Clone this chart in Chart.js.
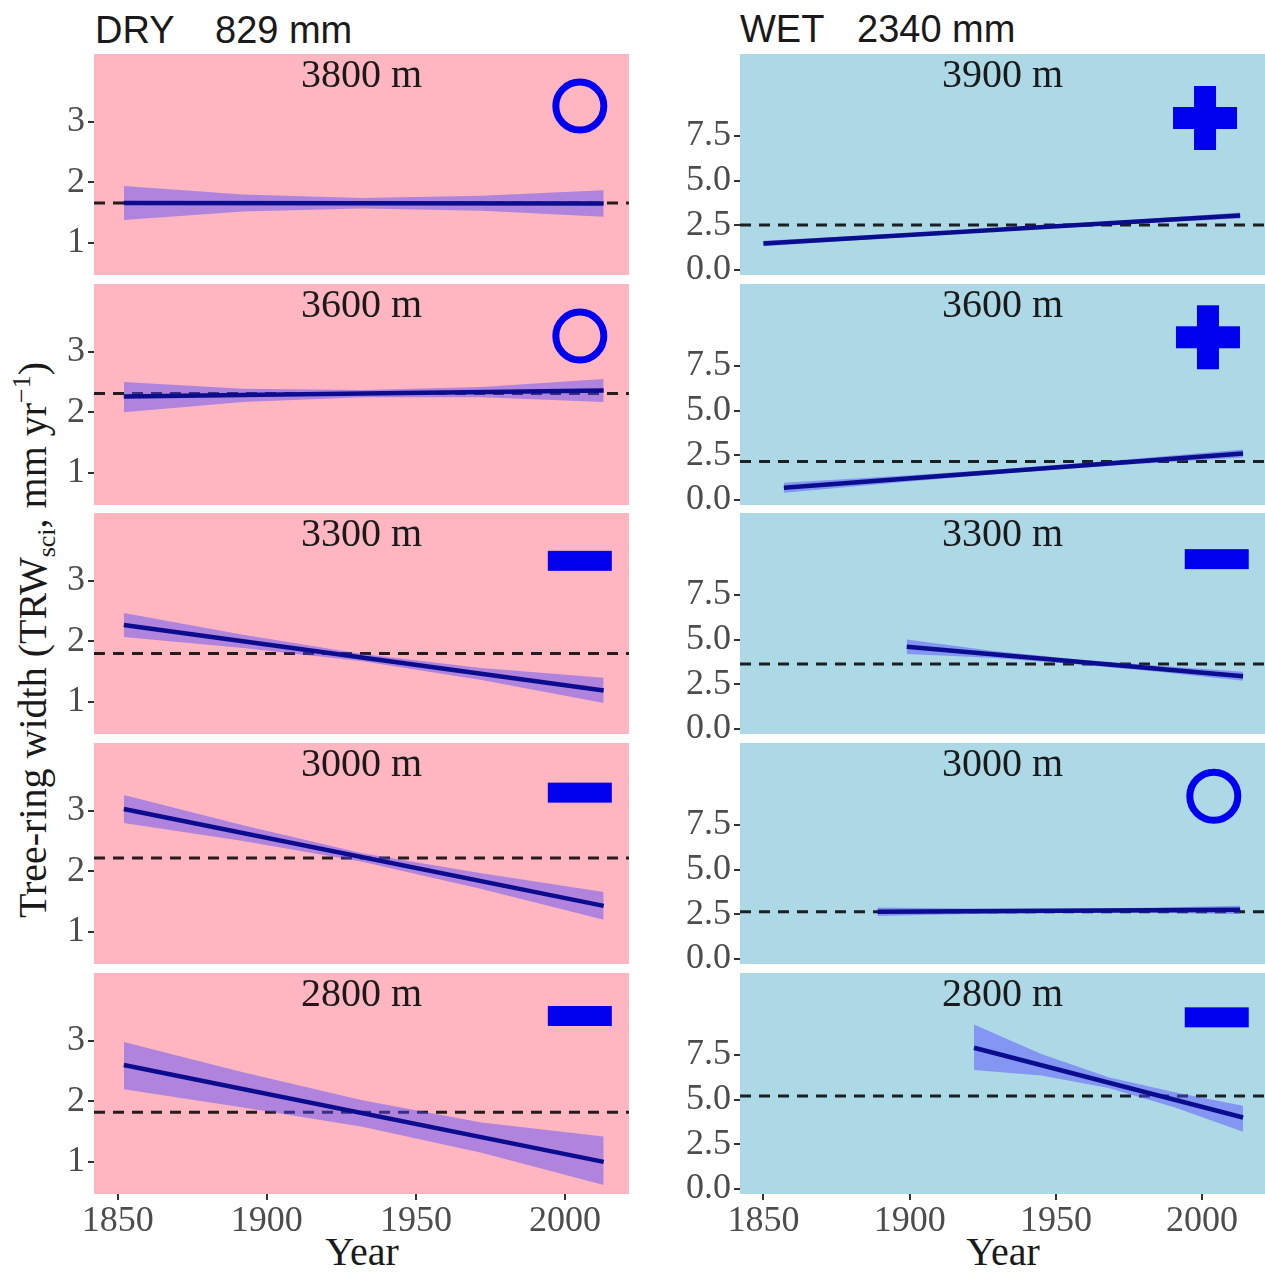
<!DOCTYPE html>
<html>
<head>
<meta charset="utf-8">
<script src="https://cdn.jsdelivr.net/npm/chart.js@4.4.0/dist/chart.umd.min.js"></script>
<style>
  body { margin:0; background:#fff; width:1265px; height:1273px; position:relative; overflow:hidden; }
  canvas { position:absolute; }
  .hdr { position:absolute; font-family:"Liberation Sans", Arial, sans-serif; font-size:38px; line-height:38px; color:#1a1a1a; white-space:pre; }
  .lab { position:absolute; font-family:"Liberation Serif", "Times New Roman", serif; font-size:40px; line-height:40px; color:#1a1a1a; white-space:nowrap; }
</style>
</head>
<body>
<div class="hdr" style="left:95px;top:11px">DRY</div>
<div class="hdr" style="left:215px;top:11px">829 mm</div>
<div class="hdr" style="left:740px;top:10px">WET</div>
<div class="hdr" style="left:857px;top:10px">2340 mm</div>
<div class="lab" style="left:35px;top:640px;transform:translate(-50%,-50%) rotate(-90deg)">Tree-ring width (TRW<span style="font-size:26px;position:relative;top:9px">sci</span>, mm yr<span style="font-size:26px;position:relative;top:-16px">−1</span>)</div>
<div class="lab" style="left:362px;top:1232px;transform:translateX(-50%)">Year</div>
<div class="lab" style="left:1003px;top:1232px;transform:translateX(-50%)">Year</div>

<script>
// tick labels
let yearTicks = [1850, 1900, 1950, 2000];
let dryTicks = [1, 2, 3];
let wetTicks = [0, 2.5, 5, 7.5];

// panel titles + trend sign
let dryElev = ['3800 m', '3600 m', '3300 m', '3000 m', '2800 m'];
let wetElev = ['3900 m', '3600 m', '3300 m', '3000 m', '2800 m'];
let drySign = ['o', 'o', '-', '-', '-'];
let wetSign = ['+', '+', '-', 'o', '-'];

// mean TRW (dashed line)
let dryMean = [1.66, 2.31, 1.80, 2.22, 1.82];
let wetMean = [2.52, 2.15, 3.64, 2.64, 5.20];

// linear trend: start/end year and value
let dryFitYears = [[1852, 2013], [1852, 2013], [1852, 2013], [1852, 2013], [1852, 2013]];
let dryFit = [[1.66, 1.65], [2.26, 2.36], [2.27, 1.19], [3.03, 1.43], [2.60, 1.00]];
let wetFitYears = [[1850, 2013], [1857, 2014], [1899, 2014], [1889, 2013], [1922, 2014]];
let wetFit = [[1.48, 3.05], [0.68, 2.60], [4.60, 2.95], [2.64, 2.75], [7.90, 4.00]];

let dryBandYears = [
  [1852, 1892, 1932, 1972, 2013], [1852, 1892, 1932, 1972, 2013], [1852, 1892, 1932, 1972, 2013],
  [1852, 1892, 1932, 1972, 2013], [1852, 1892, 1932, 1972, 2013]];
let dryLow = [
  [1.38, 1.52, 1.57, 1.53, 1.43], [2.00, 2.17, 2.25, 2.25, 2.17], [2.07, 1.89, 1.67, 1.36, 0.98],
  [2.80, 2.50, 2.16, 1.71, 1.20], [2.20, 1.90, 1.58, 1.15, 0.62]];
let dryHigh = [
  [1.94, 1.80, 1.74, 1.78, 1.87], [2.50, 2.39, 2.37, 2.42, 2.55], [2.47, 2.11, 1.79, 1.56, 1.40],
  [3.26, 2.76, 2.30, 1.97, 1.66], [2.98, 2.48, 2.02, 1.65, 1.42]];
let wetBandYears = [
  [1850, 1891, 1932, 1972, 2013], [1857, 1896, 1935, 1975, 2014], [1899, 1928, 1956, 1985, 2014],
  [1889, 1920, 1951, 1982, 2013], [1922, 1945, 1968, 1991, 2014]];
let wetLow = [
  [1.33, 1.76, 2.19, 2.56, 2.88], [0.40, 0.98, 1.52, 1.98, 2.38], [4.20, 3.98, 3.64, 3.20, 2.70],
  [2.40, 2.52, 2.58, 2.58, 2.52], [6.65, 6.35, 5.65, 4.55, 3.20]];
let wetHigh = [
  [1.63, 1.98, 2.35, 2.76, 3.22], [0.96, 1.34, 1.76, 2.28, 2.82], [5.00, 4.38, 3.92, 3.54, 3.20],
  [2.88, 2.82, 2.82, 2.86, 2.98], [9.20, 7.55, 6.25, 5.40, 4.65]];

// where the sign symbol sits (data units)
const drySymX = [2005, 2005, 2005, 2005, 2005];
const drySymY = [3.26, 3.26, 3.33, 3.30, 3.41];
const wetSymX = [2001, 2002, 2005, 2004, 2005];
const wetSymY = [8.5, 9.1, 9.5, 9.1, 9.6];

const panelTops = [54, 284, 513, 743, 973];
const panelH = 221;
const PAD = 30;
const AXIS_H = 60;
const XMIN = 1842, XMAX = 2021.5;
const serif = '"Liberation Serif", "Times New Roman", serif';

const panelDeco = {
  id: 'panelDeco',
  beforeDraw(chart, args, opts) {
    const a = chart.chartArea, ctx = chart.ctx;
    ctx.save();
    ctx.fillStyle = opts.bg;
    ctx.fillRect(a.left, a.top, a.right - a.left, a.bottom - a.top);
    ctx.restore();
  },
  afterDraw(chart, args, opts) {
    const a = chart.chartArea, ctx = chart.ctx;
    ctx.save();
    ctx.font = '40px ' + serif;
    ctx.fillStyle = '#1a1a1a';
    ctx.textAlign = 'center';
    ctx.textBaseline = 'alphabetic';
    ctx.fillText(opts.title, (a.left + a.right) / 2, a.top + 33);

    const x = chart.scales.x.getPixelForValue(opts.sx);
    const y = chart.scales.y.getPixelForValue(opts.sy);
    ctx.fillStyle = ctx.strokeStyle = '#0000ee';
    if (opts.sign === 'o') {
      ctx.lineWidth = 7;
      ctx.beginPath();
      ctx.arc(x, y, 24, 0, Math.PI * 2);
      ctx.stroke();
    } else if (opts.sign === '+') {
      ctx.fillRect(x - 32, y - 11, 64, 22);
      ctx.fillRect(x - 11, y - 32, 22, 64);
    } else {
      ctx.fillRect(x - 32, y - 10, 64, 20);
    }
    ctx.restore();
  }
};

function pts(xs, ys) {
  return xs.map((x, k) => ({x: x, y: ys[k]}));
}

function pintaPanel(col, i) {
  const wet = col === 1;
  const last = i === 4;
  const cv = document.createElement('canvas');
  const w = wet ? 625 : 640;
  const h = PAD + panelH + (last ? AXIS_H : PAD);
  cv.width = w; cv.height = h;
  cv.style.left = (wet ? 640 : 0) + 'px';
  cv.style.top = (panelTops[i] - PAD) + 'px';
  document.body.appendChild(cv);

  const fitYears = wet ? wetFitYears[i] : dryFitYears[i];
  const fit = wet ? wetFit[i] : dryFit[i];
  const bandYears = wet ? wetBandYears[i] : dryBandYears[i];
  const lo = wet ? wetLow[i] : dryLow[i];
  const hi = wet ? wetHigh[i] : dryHigh[i];
  const mean = wet ? wetMean[i] : dryMean[i];
  const band = 'rgba(80,70,255,0.45)';

  const tickFont = {family: serif, size: 36};
  const gridOpts = {drawOnChartArea: false, drawTicks: true, tickLength: 6, tickColor: '#333', lineWidth: 2};

  new Chart(cv, {
    type: 'line',
    data: {
      datasets: [
        {data: pts(fitYears, fit), borderColor: '#0c0c8e', borderWidth: 4.5, pointRadius: 0, fill: false},
        {data: pts(bandYears, hi), borderColor: 'transparent', pointRadius: 0, fill: '+1', backgroundColor: band},
        {data: pts(bandYears, lo), borderColor: 'transparent', pointRadius: 0, fill: false},
        {data: pts([XMIN, XMAX], [mean, mean]), borderColor: 'rgba(0,0,0,0.85)', borderWidth: 3,
          borderDash: [11, 8], pointRadius: 0, fill: false}
      ]
    },
    options: {
      responsive: false,
      animation: false,
      events: [],
      layout: {padding: {top: PAD, bottom: last ? 0 : PAD, left: 0, right: wet ? 0 : 11}},
      plugins: {
        legend: {display: false},
        tooltip: {enabled: false},
        panelDeco: {
          bg: wet ? '#add8e6' : '#ffb6c1',
          title: wet ? wetElev[i] : dryElev[i],
          sign: wet ? wetSign[i] : drySign[i],
          sx: wet ? wetSymX[i] : drySymX[i],
          sy: wet ? wetSymY[i] : drySymY[i]
        }
      },
      scales: {
        x: {
          type: 'linear', min: XMIN, max: XMAX, display: last,
          afterBuildTicks: s => { s.ticks = yearTicks.map(v => ({value: v})); },
          afterFit: s => { s.height = last ? AXIS_H : 0; },
          grid: gridOpts,
          border: {display: false},
          ticks: {font: tickFont, color: '#4d4d4d', padding: 0, maxRotation: 0, autoSkip: false,
            callback: v => String(v)}
        },
        y: {
          min: wet ? -0.28 : 0.47, max: wet ? 12.08 : 4.12,
          afterBuildTicks: s => { s.ticks = (wet ? wetTicks : dryTicks).map(v => ({value: v})); },
          afterFit: s => { s.width = wet ? 100 : 94; },
          grid: gridOpts,
          border: {display: false},
          ticks: {font: tickFont, color: '#4d4d4d', padding: 3,
            callback: v => wet ? v.toFixed(1) : String(v)}
        }
      }
    },
    plugins: [panelDeco]
  });
}

for (let c = 0; c < 2; c++) {
  for (let i = 0; i < 5; i++) pintaPanel(c, i);
}
</script>
</body>
</html>
